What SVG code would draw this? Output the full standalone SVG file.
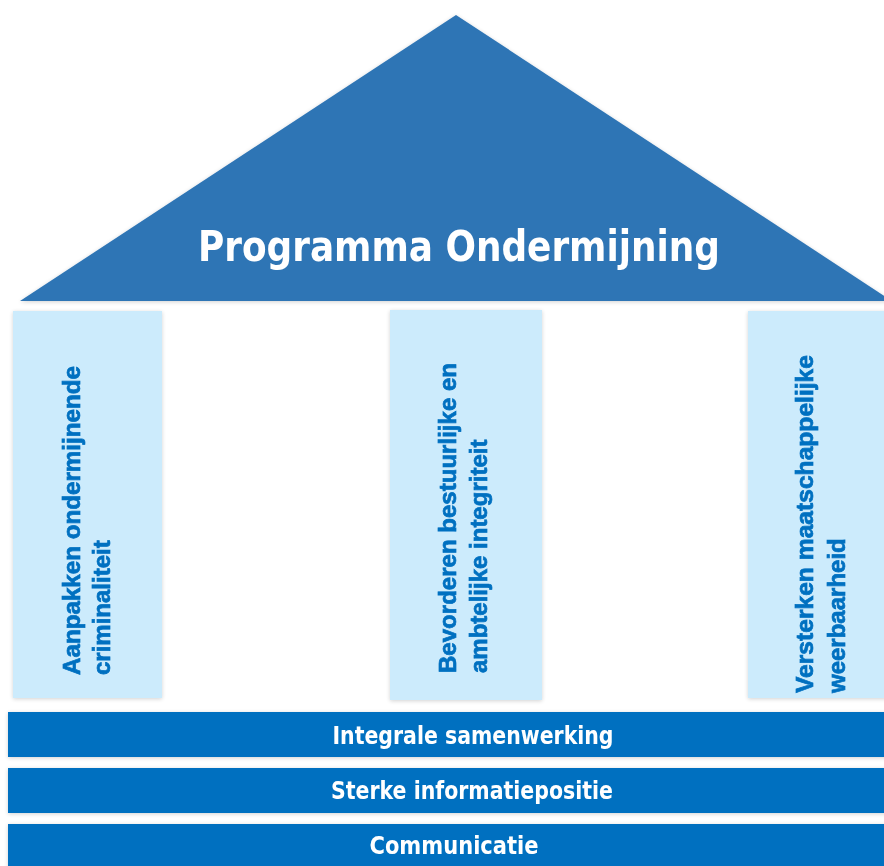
<svg xmlns="http://www.w3.org/2000/svg" width="884" height="866" viewBox="0 0 884 866">
<defs>
<filter id="sh" x="-10%" y="-10%" width="120%" height="120%">
<feGaussianBlur in="SourceAlpha" stdDeviation="2"/>
<feOffset dx="0" dy="1" result="b"/>
<feComponentTransfer><feFuncA type="linear" slope="0.18"/></feComponentTransfer>
<feMerge><feMergeNode/><feMergeNode in="SourceGraphic"/></feMerge>
</filter>
</defs>
<style>
.roof{fill:#2F75B5}
.pillar{fill:#CCEBFC}
.bar{fill:#0070C0}
.ptxt{font-family:"Liberation Sans",Arial,sans-serif;font-weight:bold;font-size:24px;fill:#0070C0;stroke:#0070C0;stroke-width:0.7px}
.ctxt{font-family:"DejaVu Sans Condensed","DejaVu Sans",sans-serif;font-stretch:condensed;font-weight:bold;fill:#FFFFFF;text-anchor:middle}
</style>
<rect width="884" height="866" fill="#FFFFFF"/>
<g id="roof" filter="url(#sh)">
<polygon class="roof" points="456,15 20,301 892,301"/>
<text class="ctxt" x="459" y="261" font-size="43" textLength="522" lengthAdjust="spacingAndGlyphs">Programma Ondermijning</text>
</g>
<g id="pillar-1" filter="url(#sh)">
<rect class="pillar" x="13" y="311" width="149" height="387"/>
<text class="ptxt" transform="translate(80,675) rotate(-90)" textLength="309" lengthAdjust="spacingAndGlyphs">Aanpakken ondermijnende</text>
<text class="ptxt" transform="translate(110,675) rotate(-90)">criminaliteit</text>
</g>
<g id="pillar-2" filter="url(#sh)">
<rect class="pillar" x="390" y="310" width="152" height="390"/>
<text class="ptxt" transform="translate(456,673) rotate(-90)" textLength="310" lengthAdjust="spacingAndGlyphs">Bevorderen bestuurlijke en</text>
<text class="ptxt" transform="translate(487,673) rotate(-90)">ambtelijke integriteit</text>
</g>
<g id="pillar-3" filter="url(#sh)">
<rect class="pillar" x="748" y="311" width="140" height="387"/>
<text class="ptxt" transform="translate(813,693) rotate(-90)" textLength="338" lengthAdjust="spacingAndGlyphs">Versterken maatschappelijke</text>
<text class="ptxt" transform="translate(845,693) rotate(-90)">weerbaarheid</text>
</g>
<g id="bar-1" filter="url(#sh)">
<rect class="bar" x="8" y="712" width="880" height="45"/>
<text class="ctxt" x="473" y="744" font-size="25" textLength="281" lengthAdjust="spacingAndGlyphs">Integrale samenwerking</text>
</g>
<g id="bar-2" filter="url(#sh)">
<rect class="bar" x="8" y="768" width="880" height="45"/>
<text class="ctxt" x="472" y="799" font-size="25" textLength="282" lengthAdjust="spacingAndGlyphs">Sterke informatiepositie</text>
</g>
<g id="bar-3" filter="url(#sh)">
<rect class="bar" x="8" y="824" width="880" height="46"/>
<text class="ctxt" x="454" y="854" font-size="25" textLength="169" lengthAdjust="spacingAndGlyphs">Communicatie</text>
</g>
<g id="connectors"/>
</svg>
